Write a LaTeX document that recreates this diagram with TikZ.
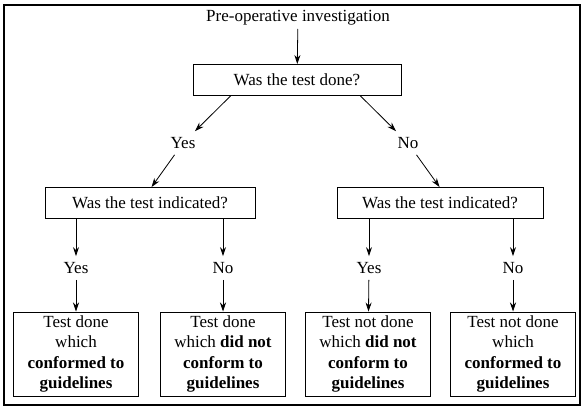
\documentclass[tikz,border=0pt]{standalone}
\usepackage{fontspec}
\setmainfont{Liberation Serif}[BoldFont={Liberation Serif Bold}]
\usetikzlibrary{arrows.meta}

\begin{document}
\begin{tikzpicture}[x=1pt, y=-1pt, >={Stealth[length=9pt, width=6pt]},
    font=\fontsize{17}{20.4}\selectfont,
    qbox/.style={draw, line width=0.9pt, minimum height=31pt, inner sep=2pt},
    endbox/.style={draw, line width=1pt, minimum width=125pt, minimum height=84pt, align=center, inner sep=2pt},
    lbl/.style={inner sep=6pt}]
    \useasboundingbox (0,0) rectangle (583,410);
    \draw[line width=1.2pt] (4,5) rectangle (580,405);

    % Top question
    \node (start) at (298, 18) {Pre-operative investigation};
    \node[qbox, minimum width=208pt] (done) at (297, 80) {Was the test done?};

    % Second level
    \node[lbl] (yes1) at (183, 143) {Yes};
    \node[lbl] (no1) at (408, 143) {No};
    \node[qbox, minimum width=210pt] (ind1) at (150, 203) {Was the test indicated?};
    \node[qbox, minimum width=206pt] (ind2) at (440, 203) {Was the test indicated?};

    % Third level
    \node[lbl] (yes2) at (76, 268) {Yes};
    \node[lbl] (no2) at (223, 268) {No};
    \node[lbl] (yes3) at (369, 268) {Yes};
    \node[lbl] (no3) at (513, 268) {No};

    % Outcomes
    \node[endbox] (out1) at (76, 354) {Test done\\which\\\textbf{conformed to}\\\textbf{guidelines}};
    \node[endbox] (out2) at (223, 354) {Test done\\which \textbf{did not}\\\textbf{conform to}\\\textbf{guidelines}};
    \node[endbox] (out3) at (368, 354) {Test not done\\which \textbf{did not}\\\textbf{conform to}\\\textbf{guidelines}};
    \node[endbox] (out4) at (513, 354) {Test not done\\which\\\textbf{conformed to}\\\textbf{guidelines}};

    \begin{scope}[line width=0.8pt]
    \draw[->] (start) -- (done);
    \draw[->] ([xshift=38pt]done.south west) -- (yes1);
    \draw[->] ([xshift=-41pt]done.south east) -- (no1);
    \draw[->] (yes1) -- ([xshift=107pt]ind1.north west);
    \draw[->] (no1) -- ([xshift=103pt]ind2.north west);
    \draw[->] (ind1.south -| yes2) -- (yes2);
    \draw[->] (ind1.south -| no2) -- (no2);
    \draw[->] (ind2.south -| yes3) -- (yes3);
    \draw[->] (ind2.south -| no3) -- (no3);
    \draw[->] (yes2) -- (out1);
    \draw[->] (no2) -- (out2);
    \draw[->] (yes3) -- (out3);
    \draw[->] (no3) -- (out4);
    \end{scope}
\end{tikzpicture}
\end{document}
